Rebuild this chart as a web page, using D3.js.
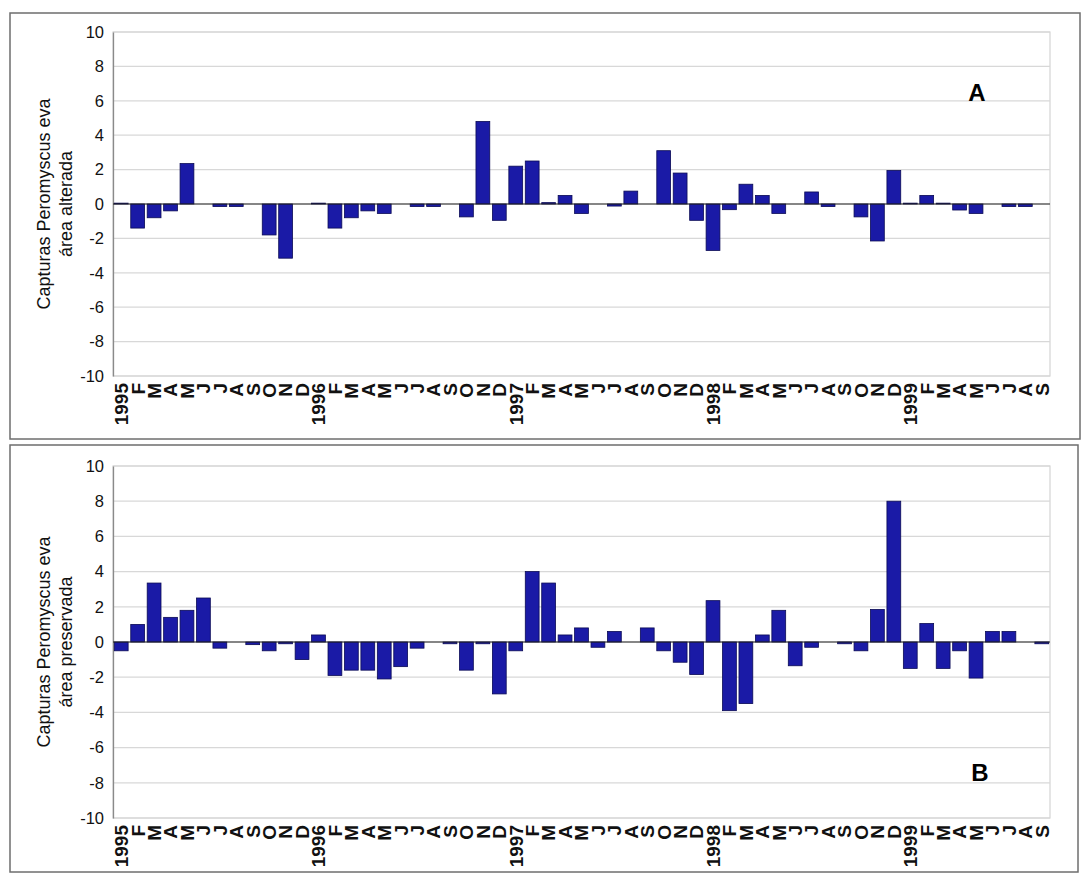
<!DOCTYPE html>
<html>
<head>
<meta charset="utf-8">
<script src="https://cdn.jsdelivr.net/npm/d3@7"></script>
<style>
  html, body { margin: 0; padding: 0; background: #ffffff; }
  svg { display: block; }
  text { font-family: "Liberation Sans", Arial, sans-serif; }
</style>
</head>
<body>
<svg id="chart" width="1082" height="878"></svg>
<script>
// Month labels, January 1995 to September 1999 (the first month of each year shows the year)
const monthLabels = [
  "1995","F","M","A","M","J","J","A","S","O","N","D",
  "1996","F","M","A","M","J","J","A","S","O","N","D",
  "1997","F","M","A","M","J","J","A","S","O","N","D",
  "1998","F","M","A","M","J","J","A","S","O","N","D",
  "1999","F","M","A","M","J","J","A","S"
];

// Captures of Peromyscus eva, disturbed area
const alteredArea = [
  0.05, -1.4, -0.8, -0.4, 2.35, 0, -0.15, -0.15, 0, -1.8, -3.15, 0,
  0.05, -1.4, -0.8, -0.4, -0.55, 0, -0.15, -0.15, 0, -0.75, 4.8, -0.95,
  2.2, 2.5, 0.08, 0.5, -0.55, 0, -0.12, 0.75, 0, 3.1, 1.8, -0.95,
  -2.7, -0.33, 1.15, 0.5, -0.55, 0, 0.7, -0.15, 0, -0.75, -2.15, 1.95,
  0.05, 0.5, 0.05, -0.35, -0.55, 0, -0.15, -0.15, 0
];

// Captures of Peromyscus eva, preserved area
const preservedArea = [
  -0.5, 1.0, 3.35, 1.4, 1.8, 2.5, -0.35, 0, -0.15, -0.5, -0.1, -1.0,
  0.4, -1.9, -1.6, -1.6, -2.1, -1.4, -0.35, 0, -0.1, -1.6, -0.1, -2.95,
  -0.5, 4.0, 3.35, 0.4, 0.8, -0.3, 0.6, 0, 0.8, -0.5, -1.15, -1.85,
  2.35, -3.9, -3.5, 0.4, 1.8, -1.35, -0.3, 0, -0.1, -0.5, 1.85, 8.0,
  -1.5, 1.05, -1.5, -0.5, -2.05, 0.6, 0.6, 0, -0.1
];

const yTicks = [10, 8, 6, 4, 2, 0, -2, -4, -6, -8, -10];

const panels = [
  { values: alteredArea, title: ["Capturas Peromyscus eva", "área alterada"], letter: "A",
    box: { x: 10, y: 13, w: 1070, h: 426 },
    plot: { left: 113, right: 1050, top: 32, bottom: 376 },
    letterPos: { x: 977, y: 101 } },
  { values: preservedArea, title: ["Capturas Peromyscus eva", "área preservada"], letter: "B",
    box: { x: 10, y: 445, w: 1068, h: 427 },
    plot: { left: 113, right: 1050, top: 466, bottom: 818 },
    letterPos: { x: 980, y: 781 } }
];

const svg = d3.select("#chart");
const idx = d3.range(monthLabels.length);

panels.forEach(p => {
  const g = svg.append("g");

  // outer frame of the panel
  g.append("rect")
    .attr("x", p.box.x).attr("y", p.box.y)
    .attr("width", p.box.w).attr("height", p.box.h)
    .attr("fill", "#ffffff").attr("stroke", "#6e6e6e").attr("stroke-width", 1.5);

  const x = d3.scaleBand().domain(idx).range([p.plot.left, p.plot.right]).paddingInner(0.16).paddingOuter(0.08);
  const y = d3.scaleLinear().domain([-10, 10]).range([p.plot.bottom, p.plot.top]);

  // plot area border (light)
  g.append("rect")
    .attr("x", p.plot.left).attr("y", p.plot.top)
    .attr("width", p.plot.right - p.plot.left).attr("height", p.plot.bottom - p.plot.top)
    .attr("fill", "none").attr("stroke", "#d4d4d4").attr("stroke-width", 1.2);

  // horizontal gridlines
  g.append("g").selectAll("line").data(yTicks).join("line")
    .attr("x1", p.plot.left).attr("x2", p.plot.right)
    .attr("y1", d => y(d)).attr("y2", d => y(d))
    .attr("stroke", "#d8d8d8").attr("stroke-width", 1.2);

  // y axis
  const yAxis = d3.axisLeft(y).tickValues(yTicks).tickFormat(d => String(d)).tickSize(0).tickPadding(9);
  const ya = g.append("g").attr("transform", `translate(${p.plot.left},0)`).call(yAxis);
  ya.select(".domain").attr("stroke", "#8a8a8a").attr("stroke-width", 1.3);
  ya.selectAll("text").attr("font-size", 16.5).attr("fill", "#111")
    .attr("font-family", "'Liberation Sans', Arial, sans-serif");

  // bars
  g.append("g").selectAll("rect").data(p.values.map((v, i) => ({ v, i }))).join("rect")
    .attr("x", d => x(d.i))
    .attr("width", x.bandwidth())
    .attr("y", d => Math.min(y(d.v), y(0)))
    .attr("height", d => Math.abs(y(d.v) - y(0)))
    .attr("fill", "#1a1aa6").attr("stroke", "#0b0b55").attr("stroke-width", 0.8);

  // zero line (category axis)
  g.append("line")
    .attr("x1", p.plot.left).attr("x2", p.plot.right)
    .attr("y1", y(0)).attr("y2", y(0))
    .attr("stroke", "#222").attr("stroke-width", 1.2);

  // month labels below the plot, rotated
  const xAxis = d3.axisBottom(x).tickFormat(i => monthLabels[i]).tickSize(0).tickPadding(0);
  const xa = g.append("g").attr("transform", `translate(0,${p.plot.bottom})`).call(xAxis);
  xa.select(".domain").remove();
  xa.selectAll("text")
    .attr("transform", "rotate(-90)")
    .attr("x", -7).attr("y", 0).attr("dy", "0.36em")
    .attr("text-anchor", "end")
    .attr("font-size", 19).attr("font-weight", "bold").attr("fill", "#111")
    .attr("font-family", "'Liberation Sans', Arial, sans-serif");

  // y axis title (two lines)
  const cy = (p.plot.top + p.plot.bottom) / 2;
  const t = g.append("text")
    .attr("transform", `translate(50,${cy}) rotate(-90)`)
    .attr("text-anchor", "middle")
    .attr("font-size", 18).attr("fill", "#111");
  p.title.forEach((line, k) => {
    t.append("tspan").attr("x", 0).attr("dy", k === 0 ? "0em" : "1.2em").text(line);
  });

  // panel letter
  g.append("text")
    .attr("x", p.letterPos.x).attr("y", p.letterPos.y)
    .attr("text-anchor", "middle")
    .attr("font-size", 24).attr("font-weight", "bold").attr("fill", "#000")
    .text(p.letter);
});
</script>
</body>
</html>
